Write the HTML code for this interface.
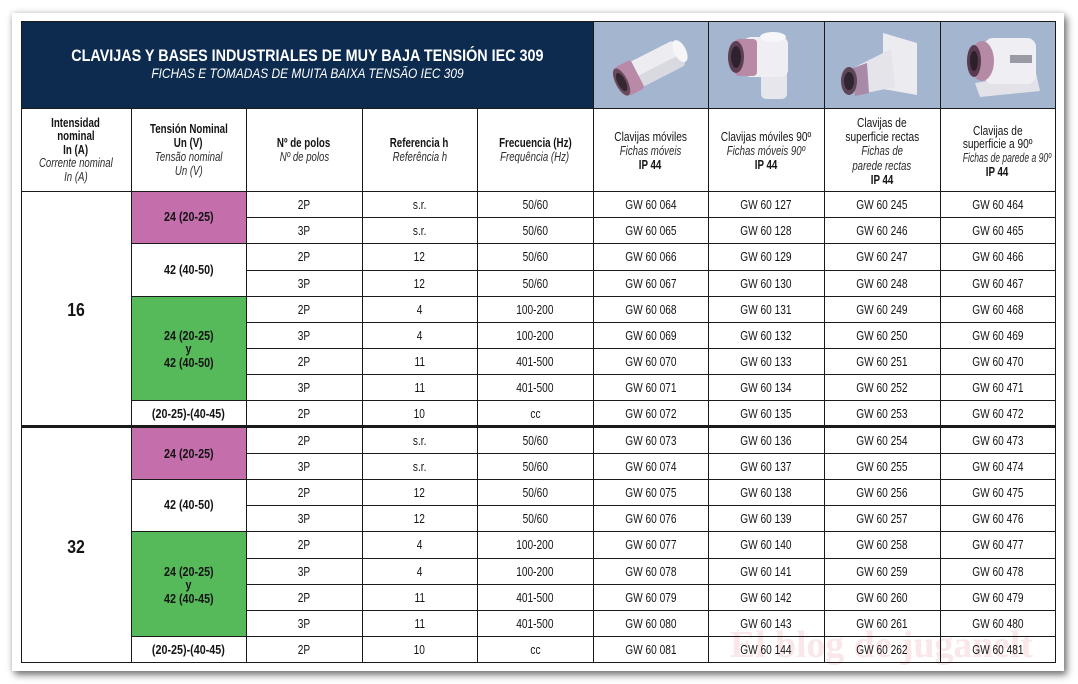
<!DOCTYPE html>
<html><head><meta charset="utf-8"><style>
html,body{margin:0;padding:0;background:#fff}
#w{position:relative;width:1078px;height:684px;overflow:hidden;background:#fff}
#card{position:absolute;left:12px;top:13px;width:1052px;height:658px;background:#fff;box-shadow:3px 4px 7px rgba(0,0,0,.5),0 0 6px rgba(0,0,0,.18)}
svg{position:absolute;left:0;top:0}
.L{position:absolute;text-align:center;white-space:nowrap;height:16px;line-height:16px;font-family:"Liberation Sans",sans-serif;font-size:13px;color:#141414}
.L span{display:inline-block;transform:scaleX(.78)}
.b{font-weight:bold}
.i{font-style:italic;color:#2c2c2c}
.i span{transform:scaleX(.74)}
.b span{transform:scaleX(.75)}
.v{font-weight:bold;font-size:12.5px}
.v span{transform:scaleX(.86)}
.big{font-weight:bold;font-size:18px;height:22px;line-height:22px}
.big span{transform:scaleX(.88)}
.c1{left:21px;width:110px}.c2{left:131px;width:115px}.c3{left:246px;width:116px}.c4{left:362px;width:115px}.c5{left:477px;width:116px}.c6{left:593px;width:115px}.c7{left:708px;width:116px}.c8{left:824px;width:116px}.c9{left:940px;width:115px}
.tt{position:absolute;left:21px;width:572px;text-align:center;white-space:nowrap;color:#fff;font-family:"Liberation Sans",sans-serif}
.tt span{display:inline-block}
</style></head><body><div id="w">
<div id="card"></div>
<svg width="1078" height="684" viewBox="0 0 1078 684">
<rect x="21" y="21" width="572" height="87" fill="#0c2b4f"/>
<rect x="593" y="21" width="462" height="87" fill="#a4b5cf"/>
<rect x="131" y="191" width="115" height="52" fill="#c46eac"/>
<rect x="131" y="428" width="115" height="51" fill="#c46eac"/>
<rect x="131" y="296" width="115" height="104" fill="#56b95a"/>
<rect x="131" y="531" width="115" height="105" fill="#56b95a"/>
<text x="730" y="657" font-family="Liberation Serif,serif" font-weight="bold" font-size="38" fill="#f9e7e9" textLength="303" lengthAdjust="spacingAndGlyphs">El blog de juganelt</text>
<g transform="translate(593,21)">
<g transform="translate(58,46) rotate(-27)">
<rect x="-20" y="-14" width="52" height="28" rx="4" fill="#ededf1"/>
<rect x="-20" y="2" width="52" height="12" rx="3" fill="#d9d9e2"/>
<ellipse cx="33" cy="-1" rx="6" ry="12" fill="#f6f6f8"/>
<rect x="-33" y="-16" width="18" height="32" rx="3" fill="#b98aa8"/>
<ellipse cx="-33" cy="0" rx="6" ry="15" fill="#6a4a5c"/>
<ellipse cx="-33" cy="0" rx="4" ry="10" fill="#35262f"/>
</g></g>
<g transform="translate(709,21)">
<rect x="52" y="38" width="26" height="40" rx="5" fill="#e6e6ec"/>
<rect x="35" y="16" width="44" height="40" rx="7" fill="#efeff3"/>
<ellipse cx="64" cy="16" rx="13" ry="5" fill="#f7f7f9"/>
<rect x="26" y="18" width="22" height="37" rx="4" fill="#b88aa6"/>
<ellipse cx="27" cy="36" rx="8" ry="16" fill="#5e3f52"/>
<ellipse cx="27" cy="36" rx="5" ry="11" fill="#2f2230"/>
</g>
<g transform="translate(825,21)">
<polygon points="58,12 92,22 92,74 58,68" fill="#ececf0"/>
<polygon points="30,46 66,28 70,66 32,74" fill="#e4e4ea"/>
<polygon points="28,47 42,42 44,72 30,75" fill="#a88aa8"/>
<ellipse cx="24" cy="60" rx="8" ry="14" fill="#5e4558"/>
<ellipse cx="24" cy="60" rx="5" ry="9" fill="#2e2530"/>
</g>
<g transform="translate(940,21)">
<polygon points="35,62 96,52 100,70 40,76" fill="#e2e2e8"/>
<rect x="44" y="17" width="52" height="46" rx="9" fill="#efeff3"/>
<rect x="70" y="34" width="22" height="8" fill="#9a9aa4"/>
<ellipse cx="42" cy="40" rx="12" ry="20" fill="#b58aa5"/>
<ellipse cx="34" cy="40" rx="7" ry="16" fill="#5a3a4e"/>
<ellipse cx="34" cy="40" rx="4" ry="10" fill="#2c2029"/>
</g>
<g stroke="#1a1a1a" stroke-width="1" shape-rendering="crispEdges" fill="none">
<path d="M21.5 21V663M1055.5 21V663"/>
<path d="M131.5 108V662M246.5 108V662M362.5 108V662M477.5 108V662"/>
<path d="M593.5 21V662M708.5 21V662M824.5 21V662M940.5 21V662" />
<path d="M21 21.5H1056M21 108.5H1056M21 191.5H1056M21 662.5H1056"/>
<path d="M246 217.5H1056M246 270.5H1056M246 322.5H1056M246 348.5H1056M246 374.5H1056"/>
<path d="M131 243.5H1056M131 296.5H1056M131 400.5H1056"/>
<path d="M246 453.5H1056M246 505.5H1056M246 558.5H1056M246 584.5H1056M246 610.5H1056"/>
<path d="M131 479.5H1056M131 531.5H1056M131 636.5H1056"/>
</g>
<rect x="21" y="425" width="1035" height="3" fill="#1a1a1a"/>
</svg>

<div class="tt" style="top:45px;height:22px;line-height:22px;font-size:16.5px;font-weight:bold"><span style="transform:scaleX(.87)">CLAVIJAS Y BASES INDUSTRIALES DE MUY BAJA TENSIÓN IEC 309</span></div>
<div class="tt" style="top:65px;height:18px;line-height:18px;font-size:13.7px;font-style:italic"><span style="transform:scaleX(.87)">FICHAS E TOMADAS DE MUITA BAIXA TENSÃO IEC 309</span></div>

<div class="L b c1" style="top:114.5px"><span>Intensidad</span></div>
<div class="L b c1" style="top:128px"><span>nominal</span></div>
<div class="L b c1" style="top:141.5px"><span>In (A)</span></div>
<div class="L i c1" style="top:155px"><span>Corrente nominal</span></div>
<div class="L i c1" style="top:168.5px"><span>In (A)</span></div>

<div class="L b c2" style="top:120.5px"><span>Tensión Nominal</span></div>
<div class="L b c2" style="top:134.5px"><span>Un (V)</span></div>
<div class="L i c2" style="top:148.5px"><span>Tensão nominal</span></div>
<div class="L i c2" style="top:162.5px"><span>Un (V)</span></div>

<div class="L b c3" style="top:135px"><span>Nº de polos</span></div>
<div class="L i c3" style="top:148.5px"><span>Nº de polos</span></div>
<div class="L b c4" style="top:135px"><span>Referencia h</span></div>
<div class="L i c4" style="top:148.5px"><span>Referência h</span></div>
<div class="L b c5" style="top:135px"><span>Frecuencia (Hz)</span></div>
<div class="L i c5" style="top:148.5px"><span>Frequência (Hz)</span></div>

<div class="L c6" style="top:128.5px"><span>Clavijas móviles</span></div>
<div class="L i c6" style="top:142.5px"><span>Fichas móveis</span></div>
<div class="L b c6" style="top:157px"><span>IP 44</span></div>

<div class="L c7" style="top:128.5px"><span>Clavijas móviles 90º</span></div>
<div class="L i c7" style="top:142.5px"><span>Fichas móveis 90º</span></div>
<div class="L b c7" style="top:157px"><span>IP 44</span></div>

<div class="L c8" style="top:115px"><span>Clavijas de</span></div>
<div class="L c8" style="top:128.5px"><span>superficie rectas</span></div>
<div class="L i c8" style="top:142.5px"><span>Fichas de</span></div>
<div class="L i c8" style="top:158px"><span>parede rectas</span></div>
<div class="L b c8" style="top:172px"><span>IP 44</span></div>

<div class="L c9" style="top:122.5px"><span>Clavijas de</span></div>
<div class="L c9" style="top:136px"><span>superficie a 90º</span></div>
<div class="L i c9" style="top:149.5px"><span style="transform:scaleX(.66)">Fichas de parede a 90º</span></div>
<div class="L b c9" style="top:163.5px"><span>IP 44</span></div>

<div class="L big c1" style="top:299px"><span>16</span></div>
<div class="L v c2" style="top:209px"><span>24 (20-25)</span></div>
<div class="L v c2" style="top:261.5px"><span>42 (40-50)</span></div>
<div class="L v c2" style="top:328px"><span>24 (20-25)</span></div>
<div class="L v c2" style="top:341px"><span>y</span></div>
<div class="L v c2" style="top:355px"><span>42 (40-50)</span></div>
<div class="L v c2" style="top:405.5px"><span>(20-25)-(40-45)</span></div>

<div class="L c3" style="top:196.5px"><span>2P</span></div><div class="L c4" style="top:196.5px"><span>s.r.</span></div><div class="L c5" style="top:196.5px"><span>50/60</span></div><div class="L c6" style="top:196.5px"><span>GW 60 064</span></div><div class="L c7" style="top:196.5px"><span>GW 60 127</span></div><div class="L c8" style="top:196.5px"><span>GW 60 245</span></div><div class="L c9" style="top:196.5px"><span>GW 60 464</span></div>
<div class="L c3" style="top:222.5px"><span>3P</span></div><div class="L c4" style="top:222.5px"><span>s.r.</span></div><div class="L c5" style="top:222.5px"><span>50/60</span></div><div class="L c6" style="top:222.5px"><span>GW 60 065</span></div><div class="L c7" style="top:222.5px"><span>GW 60 128</span></div><div class="L c8" style="top:222.5px"><span>GW 60 246</span></div><div class="L c9" style="top:222.5px"><span>GW 60 465</span></div>
<div class="L c3" style="top:249px"><span>2P</span></div><div class="L c4" style="top:249px"><span>12</span></div><div class="L c5" style="top:249px"><span>50/60</span></div><div class="L c6" style="top:249px"><span>GW 60 066</span></div><div class="L c7" style="top:249px"><span>GW 60 129</span></div><div class="L c8" style="top:249px"><span>GW 60 247</span></div><div class="L c9" style="top:249px"><span>GW 60 466</span></div>
<div class="L c3" style="top:275.5px"><span>3P</span></div><div class="L c4" style="top:275.5px"><span>12</span></div><div class="L c5" style="top:275.5px"><span>50/60</span></div><div class="L c6" style="top:275.5px"><span>GW 60 067</span></div><div class="L c7" style="top:275.5px"><span>GW 60 130</span></div><div class="L c8" style="top:275.5px"><span>GW 60 248</span></div><div class="L c9" style="top:275.5px"><span>GW 60 467</span></div>
<div class="L c3" style="top:301.5px"><span>2P</span></div><div class="L c4" style="top:301.5px"><span>4</span></div><div class="L c5" style="top:301.5px"><span>100-200</span></div><div class="L c6" style="top:301.5px"><span>GW 60 068</span></div><div class="L c7" style="top:301.5px"><span>GW 60 131</span></div><div class="L c8" style="top:301.5px"><span>GW 60 249</span></div><div class="L c9" style="top:301.5px"><span>GW 60 468</span></div>
<div class="L c3" style="top:327.5px"><span>3P</span></div><div class="L c4" style="top:327.5px"><span>4</span></div><div class="L c5" style="top:327.5px"><span>100-200</span></div><div class="L c6" style="top:327.5px"><span>GW 60 069</span></div><div class="L c7" style="top:327.5px"><span>GW 60 132</span></div><div class="L c8" style="top:327.5px"><span>GW 60 250</span></div><div class="L c9" style="top:327.5px"><span>GW 60 469</span></div>
<div class="L c3" style="top:353.5px"><span>2P</span></div><div class="L c4" style="top:353.5px"><span>11</span></div><div class="L c5" style="top:353.5px"><span>401-500</span></div><div class="L c6" style="top:353.5px"><span>GW 60 070</span></div><div class="L c7" style="top:353.5px"><span>GW 60 133</span></div><div class="L c8" style="top:353.5px"><span>GW 60 251</span></div><div class="L c9" style="top:353.5px"><span>GW 60 470</span></div>
<div class="L c3" style="top:379.5px"><span>3P</span></div><div class="L c4" style="top:379.5px"><span>11</span></div><div class="L c5" style="top:379.5px"><span>401-500</span></div><div class="L c6" style="top:379.5px"><span>GW 60 071</span></div><div class="L c7" style="top:379.5px"><span>GW 60 134</span></div><div class="L c8" style="top:379.5px"><span>GW 60 252</span></div><div class="L c9" style="top:379.5px"><span>GW 60 471</span></div>
<div class="L c3" style="top:405.5px"><span>2P</span></div><div class="L c4" style="top:405.5px"><span>10</span></div><div class="L c5" style="top:405.5px"><span>cc</span></div><div class="L c6" style="top:405.5px"><span>GW 60 072</span></div><div class="L c7" style="top:405.5px"><span>GW 60 135</span></div><div class="L c8" style="top:405.5px"><span>GW 60 253</span></div><div class="L c9" style="top:405.5px"><span>GW 60 472</span></div>

<div class="L big c1" style="top:536px"><span>32</span></div>
<div class="L v c2" style="top:445.5px"><span>24 (20-25)</span></div>
<div class="L v c2" style="top:497px"><span>42 (40-50)</span></div>
<div class="L v c2" style="top:563.5px"><span>24 (20-25)</span></div>
<div class="L v c2" style="top:577px"><span>y</span></div>
<div class="L v c2" style="top:591px"><span>42 (40-45)</span></div>
<div class="L v c2" style="top:641.5px"><span>(20-25)-(40-45)</span></div>

<div class="L c3" style="top:432.5px"><span>2P</span></div><div class="L c4" style="top:432.5px"><span>s.r.</span></div><div class="L c5" style="top:432.5px"><span>50/60</span></div><div class="L c6" style="top:432.5px"><span>GW 60 073</span></div><div class="L c7" style="top:432.5px"><span>GW 60 136</span></div><div class="L c8" style="top:432.5px"><span>GW 60 254</span></div><div class="L c9" style="top:432.5px"><span>GW 60 473</span></div>
<div class="L c3" style="top:458.5px"><span>3P</span></div><div class="L c4" style="top:458.5px"><span>s.r.</span></div><div class="L c5" style="top:458.5px"><span>50/60</span></div><div class="L c6" style="top:458.5px"><span>GW 60 074</span></div><div class="L c7" style="top:458.5px"><span>GW 60 137</span></div><div class="L c8" style="top:458.5px"><span>GW 60 255</span></div><div class="L c9" style="top:458.5px"><span>GW 60 474</span></div>
<div class="L c3" style="top:484.5px"><span>2P</span></div><div class="L c4" style="top:484.5px"><span>12</span></div><div class="L c5" style="top:484.5px"><span>50/60</span></div><div class="L c6" style="top:484.5px"><span>GW 60 075</span></div><div class="L c7" style="top:484.5px"><span>GW 60 138</span></div><div class="L c8" style="top:484.5px"><span>GW 60 256</span></div><div class="L c9" style="top:484.5px"><span>GW 60 475</span></div>
<div class="L c3" style="top:510.5px"><span>3P</span></div><div class="L c4" style="top:510.5px"><span>12</span></div><div class="L c5" style="top:510.5px"><span>50/60</span></div><div class="L c6" style="top:510.5px"><span>GW 60 076</span></div><div class="L c7" style="top:510.5px"><span>GW 60 139</span></div><div class="L c8" style="top:510.5px"><span>GW 60 257</span></div><div class="L c9" style="top:510.5px"><span>GW 60 476</span></div>
<div class="L c3" style="top:537px"><span>2P</span></div><div class="L c4" style="top:537px"><span>4</span></div><div class="L c5" style="top:537px"><span>100-200</span></div><div class="L c6" style="top:537px"><span>GW 60 077</span></div><div class="L c7" style="top:537px"><span>GW 60 140</span></div><div class="L c8" style="top:537px"><span>GW 60 258</span></div><div class="L c9" style="top:537px"><span>GW 60 477</span></div>
<div class="L c3" style="top:563.5px"><span>3P</span></div><div class="L c4" style="top:563.5px"><span>4</span></div><div class="L c5" style="top:563.5px"><span>100-200</span></div><div class="L c6" style="top:563.5px"><span>GW 60 078</span></div><div class="L c7" style="top:563.5px"><span>GW 60 141</span></div><div class="L c8" style="top:563.5px"><span>GW 60 259</span></div><div class="L c9" style="top:563.5px"><span>GW 60 478</span></div>
<div class="L c3" style="top:589.5px"><span>2P</span></div><div class="L c4" style="top:589.5px"><span>11</span></div><div class="L c5" style="top:589.5px"><span>401-500</span></div><div class="L c6" style="top:589.5px"><span>GW 60 079</span></div><div class="L c7" style="top:589.5px"><span>GW 60 142</span></div><div class="L c8" style="top:589.5px"><span>GW 60 260</span></div><div class="L c9" style="top:589.5px"><span>GW 60 479</span></div>
<div class="L c3" style="top:615.5px"><span>3P</span></div><div class="L c4" style="top:615.5px"><span>11</span></div><div class="L c5" style="top:615.5px"><span>401-500</span></div><div class="L c6" style="top:615.5px"><span>GW 60 080</span></div><div class="L c7" style="top:615.5px"><span>GW 60 143</span></div><div class="L c8" style="top:615.5px"><span>GW 60 261</span></div><div class="L c9" style="top:615.5px"><span>GW 60 480</span></div>
<div class="L c3" style="top:641.5px"><span>2P</span></div><div class="L c4" style="top:641.5px"><span>10</span></div><div class="L c5" style="top:641.5px"><span>cc</span></div><div class="L c6" style="top:641.5px"><span>GW 60 081</span></div><div class="L c7" style="top:641.5px"><span>GW 60 144</span></div><div class="L c8" style="top:641.5px"><span>GW 60 262</span></div><div class="L c9" style="top:641.5px"><span>GW 60 481</span></div>
</div></body></html>
